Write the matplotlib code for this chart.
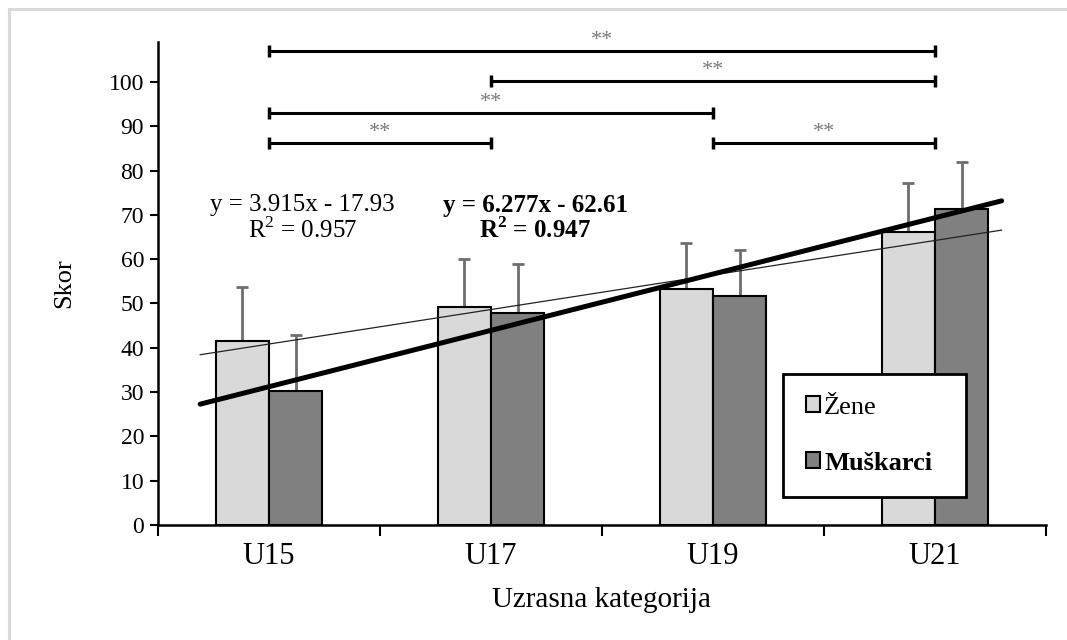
import numpy as np
import matplotlib
matplotlib.use("Agg")
import matplotlib.pyplot as plt
from matplotlib.lines import Line2D

categories = ["U15", "U17", "U19", "U21"]
zene = [41.5, 49.2, 53.3, 66.1]
zene_err = [12.2, 10.8, 10.4, 11.1]
muskarci = [30.2, 47.9, 51.7, 71.3]
muskarci_err = [12.7, 11.1, 10.3, 10.7]
series_labels = ["Žene", "Muškarci"]
eq_zene = ["y = 3.915x - 17.93", "R$^2$ = 0.957"]
eq_musk = ["y = 6.277x - 62.61", "R$^{\\mathbf{2}}$ = 0.947"]
# significance brackets: (from category index, to category index, height)
brackets = [(0, 3, 107.0), (1, 3, 100.2), (0, 2, 93.0), (0, 1, 86.2), (2, 3, 86.2)]
sig_label = "**"

plt.rcParams["font.family"] = ["Liberation Serif", "DejaVu Serif"]
plt.rcParams["mathtext.fontset"] = "custom"
plt.rcParams["mathtext.rm"] = "Liberation Serif"
plt.rcParams["mathtext.bf"] = "Liberation Serif:bold"

fig = plt.figure(figsize=(10.67, 6.4), dpi=100)
fig.patch.set_facecolor("white")
# light grey frame lines (top and left)
fx = 9 / 1067
fy = 1 - 9 / 640
fig.lines.append(Line2D([fx, 1.0], [fy, fy], transform=fig.transFigure,
                        color="#d9d9d9", linewidth=2.2))
fig.lines.append(Line2D([fx, fx], [0.0, fy], transform=fig.transFigure,
                        color="#d9d9d9", linewidth=2.2))

ax = fig.add_axes([158 / 1067, 115 / 640, 888 / 1067, 483 / 640])
x = np.arange(len(categories))
w = 0.24

ax.bar(x - w / 2, zene, w, color="#d9d9d9", edgecolor="black", linewidth=1.5,
       label=series_labels[0], zorder=2)
ax.bar(x + w / 2, muskarci, w, color="#808080", edgecolor="black", linewidth=1.5,
       label=series_labels[1], zorder=2)
ax.errorbar(x - w / 2, zene, yerr=[np.zeros(4), zene_err], fmt="none",
            ecolor="#6e6e6e", elinewidth=2, capsize=4.5, capthick=2, zorder=1)
ax.errorbar(x + w / 2, muskarci, yerr=[np.zeros(4), muskarci_err], fmt="none",
            ecolor="#6e6e6e", elinewidth=2, capsize=4.5, capthick=2, zorder=1)

# linear trendlines fitted to each series
xt = np.array([-0.31, 3.30])
pz = np.polyfit(x, zene, 1)
pm = np.polyfit(x, muskarci, 1)
ax.plot(xt, np.polyval(pz, xt), color="#222222", linewidth=0.9, zorder=3)
ax.plot(xt, np.polyval(pm, xt), color="black", linewidth=3.6,
        solid_capstyle="round", zorder=3)

# equations
ax.text(0.15, 72.2, eq_zene[0], ha="center", va="center", fontsize=18)
ax.text(0.15, 66.6, eq_zene[1], ha="center", va="center", fontsize=18)
ax.text(1.20, 72.2, eq_musk[0], ha="center", va="center", fontsize=18,
        fontweight="bold")
ax.text(1.20, 66.6, eq_musk[1], ha="center", va="center", fontsize=18,
        fontweight="bold")

# significance brackets
for i, j, h in brackets:
    ax.plot([i, j], [h, h], color="black", linewidth=2.2, clip_on=False,
            solid_capstyle="butt", zorder=4)
    for e in (i, j):
        ax.plot([e, e], [h - 1.4, h + 1.4], color="black", linewidth=2.5,
                clip_on=False, solid_capstyle="butt", zorder=4)
    ax.text((i + j) / 2, h + 0.2, sig_label, ha="center", va="bottom",
            fontsize=16, color="#7a7a7a", clip_on=False)

ax.set_xlim(-0.5, 3.5)
ax.set_ylim(0, 109)
ax.set_yticks(np.arange(0, 101, 10))
ax.set_xticks(np.arange(-0.5, 3.6, 1.0))
ax.set_xticklabels([])
ax.set_xticks(x, minor=True)
ax.set_xticklabels(categories, minor=True, fontsize=22)
ax.tick_params(axis="x", which="major", direction="out", length=8, width=1.5)
ax.tick_params(axis="x", which="minor", length=0, pad=12)
ax.tick_params(axis="y", direction="out", length=6, width=1.5, labelsize=17,
               pad=4)
for s in ("top", "right"):
    ax.spines[s].set_visible(False)
for s in ("left", "bottom"):
    ax.spines[s].set_linewidth(1.8)

ax.set_ylabel("Skor", fontsize=19, labelpad=24)
ax.set_xlabel("Uzrasna kategorija", fontsize=21, labelpad=12)

leg = ax.legend(loc="lower left", bbox_to_anchor=(0.704, 0.058, 0.206, 0.248),
                mode="expand", fontsize=19, frameon=True, fancybox=False,
                edgecolor="black", framealpha=1, handlelength=0.55,
                handleheight=0.55, handletextpad=0.15, labelspacing=1.25,
                borderpad=0.85, borderaxespad=0)
leg.get_frame().set_linewidth(2)
leg.get_texts()[1].set_fontweight("bold")
for hdl in leg.legend_handles:
    hdl.set_linewidth(1.5)

fig.savefig("out.png", dpi=100)
